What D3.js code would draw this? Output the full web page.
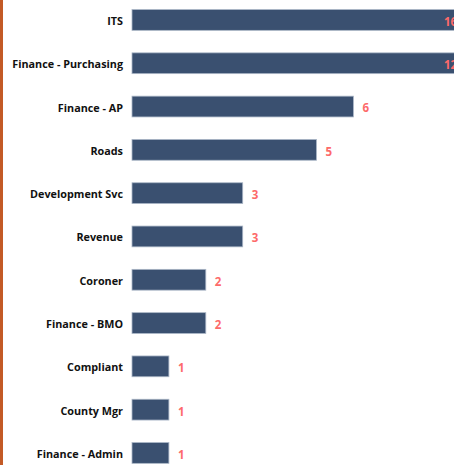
<!DOCTYPE html>
<html>
<head>
<meta charset="utf-8">
<script src="https://cdn.jsdelivr.net/npm/d3@7"></script>
<style>
  body { margin: 0; background: #fff; overflow: hidden; }
  .cat text { font-family: "Open Sans", "Noto Sans", sans-serif; font-weight: 700; font-size: 10.8px; fill: #111; }
  .lbl { font-family: "Open Sans", "Noto Sans", sans-serif; font-weight: 700; font-size: 11.5px; fill: #fd6a6a; }
</style>
</head>
<body>
<div id="chart"></div>
<script>
// departments and request counts
var categories = ["ITS", "Finance - Purchasing", "Finance - AP", "Roads", "Development Svc",
  "Revenue", "Coroner", "Finance - BMO", "Compliant", "County Mgr", "Finance - Admin"];
var counts = [16, 12, 6, 5, 3, 3, 2, 2, 1, 1, 1];

var W = 454, H = 465;
var left = 132;

var svg = d3.select("#chart").append("svg")
  .attr("width", W)
  .attr("height", H);

// orange accent strip on the left
svg.append("rect")
  .attr("x", 0).attr("y", 0)
  .attr("width", 3).attr("height", H)
  .attr("fill", "#c35a26");

// 36.9 px per unit, so the two biggest bars run off the right edge
var x = d3.scaleLinear().domain([0, 16]).range([left, left + 16 * 36.9]);

var y = d3.scaleBand()
  .domain(categories)
  .range([-1.7, 474.6])
  .paddingInner(0.52)
  .paddingOuter(0.26);

var data = categories.map(function(c, i) { return {cat: c, v: counts[i]}; });

svg.selectAll("rect.bar")
  .data(data)
  .enter().append("rect")
    .attr("class", "bar")
    .attr("x", x(0))
    .attr("y", function(d) { return y(d.cat); })
    .attr("width", function(d) { return x(d.v) - x(0); })
    .attr("height", y.bandwidth())
    .attr("fill", "#3a5070")
    .attr("stroke", "#aab6c6")
    .attr("stroke-width", 0.8);

// category axis, no line or ticks
var yAxis = d3.axisLeft(y).tickSize(0).tickPadding(9);
svg.append("g")
  .attr("class", "cat")
  .attr("transform", "translate(" + left + ",1.5)")
  .call(yAxis)
  .call(function(g) { g.select(".domain").remove(); });

// value labels; clamp inside the visible area when a bar overflows
svg.selectAll("text.lbl")
  .data(data)
  .enter().append("text")
    .attr("class", "lbl")
    .attr("x", function(d) {
      var xe = x(d.v) + 9;
      return xe > W - 12 ? W - 10 : xe;
    })
    .attr("y", function(d) { return y(d.cat) + y.bandwidth() / 2 + 1.5; })
    .attr("dy", "0.38em")
    .text(function(d) { return d.v; });
</script>
</body>
</html>
